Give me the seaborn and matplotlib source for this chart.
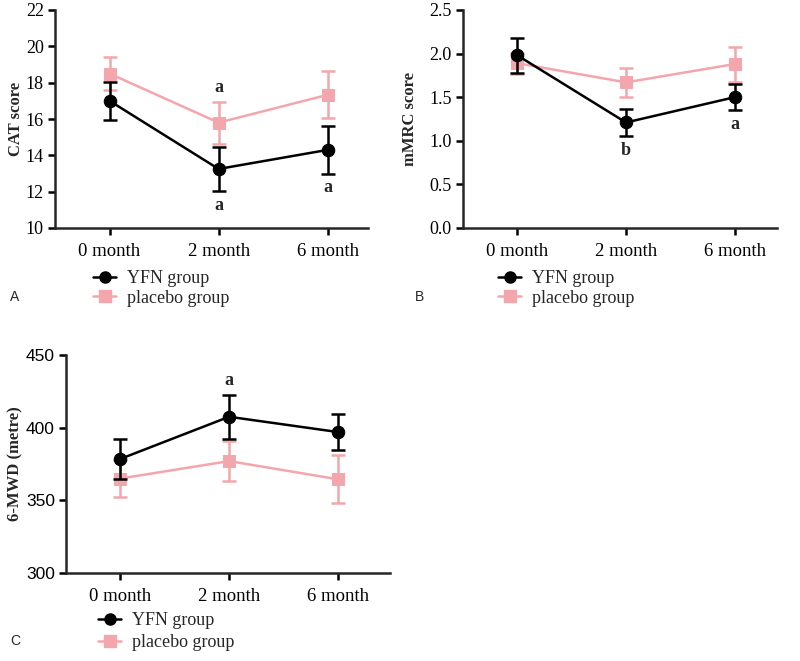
import numpy as np
import pandas as pd
import matplotlib
matplotlib.use("Agg")
import matplotlib.pyplot as plt
from matplotlib.lines import Line2D
import seaborn as sns

sns.set_style("ticks")
plt.rcParams["font.family"] = ["Liberation Serif", "DejaVu Serif"]

months = ["0 month", "2 month", "6 month"]
groups = ["YFN group", "placebo group"]

# CAT score
cat_yfn = [17.0, 13.25, 14.3]
cat_yfn_err = [1.05, 1.23, 1.3]
cat_placebo = [18.5, 15.8, 17.33]
cat_placebo_err = [0.9, 1.15, 1.3]

# mMRC score
mmrc_yfn = [1.98, 1.21, 1.50]
mmrc_yfn_err = [0.2, 0.16, 0.15]
mmrc_placebo = [1.89, 1.67, 1.88]
mmrc_placebo_err = [0.12, 0.17, 0.2]

# 6-MWD
mwd_yfn = [378.5, 407.5, 397.0]
mwd_yfn_err = [13.5, 15.0, 12.5]
mwd_placebo = [365.0, 377.0, 364.5]
mwd_placebo_err = [12.5, 13.5, 16.5]

# significance letters: (group, month index, letter, side)
cat_marks = [("placebo group", 1, "a", "above"), ("YFN group", 1, "a", "below"), ("YFN group", 2, "a", "below")]
mmrc_marks = [("YFN group", 1, "b", "below"), ("YFN group", 2, "a", "below")]
mwd_marks = [("YFN group", 1, "a", "above")]

colors = {"YFN group": "black", "placebo group": "#F3A6AC"}
markers = {"YFN group": "o", "placebo group": "s"}


def panel(ax, yfn, yfn_err, plc, plc_err, marks, ylabel, yticks, xmax, fmt, labelpad):
    df = pd.DataFrame({
        "pos": list(range(len(months))) * 2,
        "value": yfn + plc,
        "err": yfn_err + plc_err,
        "group": [groups[0]] * len(months) + [groups[1]] * len(months),
    })
    for i, g in enumerate(["placebo group", "YFN group"]):
        d = df[df["group"] == g]
        z = 2 + 2 * i
        ax.errorbar(d["pos"], d["value"], yerr=d["err"], fmt="none", ecolor=colors[g],
                    elinewidth=1.8, capsize=5, capthick=1.8, zorder=z)
        sns.lineplot(data=d, x="pos", y="value", color=colors[g], marker=markers[g],
                     markersize=9, markeredgecolor=colors[g], linewidth=1.8, ax=ax,
                     legend=False, zorder=z + 1)
    for g, i, letter, side in marks:
        d = df[(df["group"] == g) & (df["pos"] == i)].iloc[0]
        if side == "above":
            ax.annotate(letter, (i, d["value"] + d["err"]), xytext=(0, 4), textcoords="offset points",
                        ha="center", va="bottom", fontsize=13, fontweight="bold")
        else:
            ax.annotate(letter, (i, d["value"] - d["err"]), xytext=(0, -4), textcoords="offset points",
                        ha="center", va="top", fontsize=13, fontweight="bold")
    ax.set_xlim(-0.5, xmax)
    ax.set_ylim(yticks[0], yticks[-1])
    ax.set_xticks(range(len(months)))
    ax.set_xticklabels(months, fontsize=13.5)
    ax.set_yticks(yticks)
    ax.set_yticklabels([fmt.format(v) for v in yticks], fontsize=13)
    ax.set_xlabel("")
    ax.set_ylabel(ylabel, fontsize=12, fontweight="bold", labelpad=labelpad)
    sns.despine(ax=ax)
    for s in ["left", "bottom"]:
        ax.spines[s].set_linewidth(1.8)
    ax.tick_params(width=1.8, length=5, direction="out", colors="black")
    ax.tick_params(axis="y", pad=3)
    ax.tick_params(axis="x", pad=6)


fig = plt.figure(figsize=(8, 6.61), dpi=100)
W, H = 800, 661


def box(l, r, t, b):
    return [l / W, 1 - b / H, (r - l) / W, (b - t) / H]


axA = fig.add_axes(box(55, 368, 10, 228))
axB = fig.add_axes(box(463, 777, 10, 228))
axC = fig.add_axes(box(66, 390, 355, 573))

panel(axA, cat_yfn, cat_yfn_err, cat_placebo, cat_placebo_err, cat_marks,
      "CAT score", [10, 12, 14, 16, 18, 20, 22], 2.37, "{:.0f}", 1)
panel(axB, mmrc_yfn, mmrc_yfn_err, mmrc_placebo, mmrc_placebo_err, mmrc_marks,
      "mMRC score", [0.0, 0.5, 1.0, 1.5, 2.0, 2.5], 2.39, "{:.1f}", 8)
panel(axC, mwd_yfn, mwd_yfn_err, mwd_placebo, mwd_placebo_err, mwd_marks,
      "6-MWD (metre)", [300, 350, 400, 450], 2.48, "{:.0f}", 2)
for t in axC.get_yticklabels():
    t.set_family(["Liberation Sans", "DejaVu Sans"])
    t.set_fontsize(12.5)

handles = [Line2D([], [], color=colors[g], marker=markers[g], markersize=8, linewidth=1.8)
           for g in groups]
for (x, y, sp) in [(93, 270, 0.15), (498, 270, 0.15), (98, 612, 0.3)]:
    fig.legend(handles, groups, loc="upper left", bbox_to_anchor=(x / W, 1 - y / H),
               frameon=False, fontsize=13, handlelength=1.3, handletextpad=0.6,
               labelspacing=sp, borderpad=0, borderaxespad=0)

for letter, (x, y) in zip("ABC", [(10, 297), (415, 297), (10, 641)]):
    fig.text(x / W, 1 - y / H, letter, fontsize=10, va="center", ha="left",
             family=["Liberation Sans", "DejaVu Sans"])

fig.savefig("out.png", dpi=100)
